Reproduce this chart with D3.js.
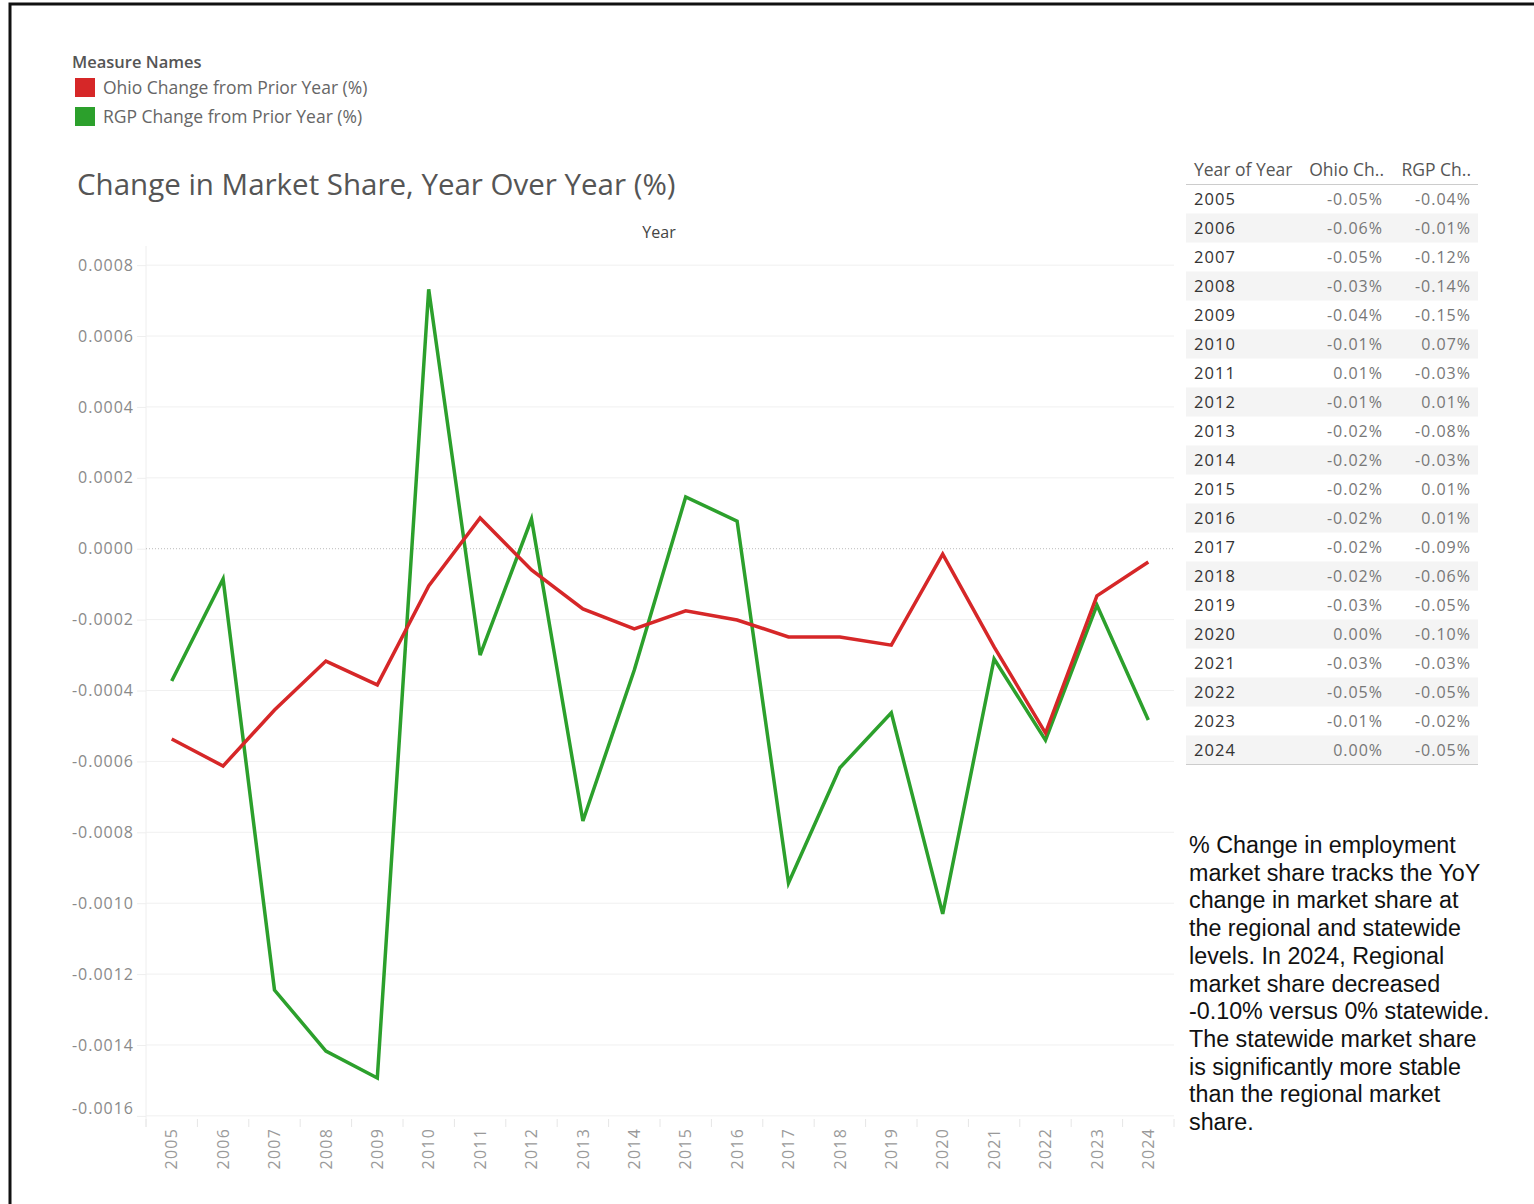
<!DOCTYPE html>
<html>
<head>
<meta charset="utf-8">
<script src="https://cdn.jsdelivr.net/npm/d3@7"></script>
<style>
  body { margin: 0; background: #fff; }
  svg { display: block; }
</style>
</head>
<body>
<div id="chart"></div>
<script>
// data
var years = ["2005","2006","2007","2008","2009","2010","2011","2012","2013","2014",
             "2015","2016","2017","2018","2019","2020","2021","2022","2023","2024"];
var ohioChange = [-0.000537, -0.000613, -0.000455, -0.000317, -0.000384, -0.000105, 0.0000866, -0.00006,
                  -0.00017, -0.000226, -0.000175, -0.000201, -0.000249, -0.000249, -0.000272, -0.000015,
                  -0.000277, -0.00052, -0.000133, -0.0000375];
var rgpChange = [-0.000373, -0.0000854, -0.001245, -0.001417, -0.001493, 0.000732, -0.0003, 0.0000838,
                 -0.000768, -0.000342, 0.000146, 0.000078, -0.000943, -0.000618, -0.000463, -0.00103,
                 -0.000311, -0.00054, -0.000159, -0.000483];
var yTicks = [0.0008, 0.0006, 0.0004, 0.0002, 0, -0.0002, -0.0004, -0.0006, -0.0008,
              -0.0010, -0.0012, -0.0014, -0.0016];
// table labels as shown (rounded by the source tool)
var ohioTable = ["-0.05%","-0.06%","-0.05%","-0.03%","-0.04%","-0.01%","0.01%","-0.01%","-0.02%","-0.02%",
                 "-0.02%","-0.02%","-0.02%","-0.02%","-0.03%","0.00%","-0.03%","-0.05%","-0.01%","0.00%"];
var rgpTable = ["-0.04%","-0.01%","-0.12%","-0.14%","-0.15%","0.07%","-0.03%","0.01%","-0.08%","-0.03%",
                "0.01%","0.01%","-0.09%","-0.06%","-0.05%","-0.10%","-0.03%","-0.05%","-0.02%","-0.05%"];
var seriesNames = ["Ohio Change from Prior Year (%)", "RGP Change from Prior Year (%)"];
var noteLines = ["% Change in employment", "market share tracks the YoY", "change in market share at",
                 "the regional and statewide", "levels. In 2024, Regional", "market share decreased",
                 "-0.10% versus 0% statewide.", "The statewide market share", "is significantly more stable",
                 "than the regional market", "share."];

var W = 1534, H = 1204;
var font = "'Open Sans', Lato, sans-serif";
var colour = d3.scaleOrdinal().domain(seriesNames).range(["#d62728", "#2ca02c"]);

var svg = d3.select("#chart").append("svg")
    .attr("width", W).attr("height", H)
    .style("font-family", font);

// black frame of the screenshot (top and left edges)
svg.append("rect")
    .attr("x", 10).attr("y", 4)
    .attr("width", W + 20).attr("height", H + 20)
    .attr("fill", "none").attr("stroke", "#111").attr("stroke-width", 3);

// ---------- legend ----------
svg.append("text")
    .attr("x", 72).attr("y", 68)
    .attr("font-size", 16.5).attr("font-weight", 600).attr("fill", "#555")
    .text("Measure Names");
var leg = svg.selectAll(".leg").data(seriesNames).enter().append("g")
    .attr("class", "leg")
    .attr("transform", function(d, i) { return "translate(75," + (78 + i * 29) + ")"; });
leg.append("rect").attr("width", 20).attr("height", 19).attr("fill", function(d) { return colour(d); });
leg.append("text").attr("x", 28).attr("y", 16)
    .attr("font-size", 17.5).attr("fill", "#666")
    .text(function(d) { return d; });

// ---------- title ----------
svg.append("text")
    .attr("x", 77).attr("y", 195)
    .attr("font-size", 29.5).attr("fill", "#555")
    .text("Change in Market Share, Year Over Year (%)");
svg.append("text")
    .attr("x", 659).attr("y", 238).attr("text-anchor", "middle")
    .attr("font-size", 16).attr("fill", "#444")
    .text("Year");

// ---------- line chart ----------
var plot = {left: 146, right: 1174, top: 246, bottom: 1118};
var x = d3.scaleBand().domain(years).range([plot.left, plot.right]);
var y = d3.scaleLinear().domain([-0.001606, 0.000854]).range([plot.bottom, plot.top]);
var cx = function(yr) { return x(yr) + x.bandwidth() / 2; };
var fmt = d3.format(".4f");

// gridlines + y labels
var yAxis = d3.axisLeft(y).tickValues(yTicks).tickSize(9)
    .tickFormat(function(d) { return fmt(d).replace("\u2212", "-"); });
var gy = svg.append("g").attr("transform", "translate(" + plot.left + ",0)").call(yAxis);
gy.select(".domain").attr("stroke", "#eee").attr("d", "M0," + plot.top + "V" + (plot.bottom + 9));
gy.selectAll(".tick line").attr("stroke", "#eee");
gy.selectAll(".tick text")
    .attr("font-family", font).attr("font-size", 16).attr("fill", "#8a8a8a")
    .attr("letter-spacing", 1)
    .attr("x", -12)
    .attr("dy", function(d) { return d === -0.0016 ? "-0.15em" : "0.32em"; });

svg.append("g").selectAll("line")
    .data(yTicks.filter(function(d) { return d !== 0; }))
    .enter().append("line")
    .attr("x1", plot.left).attr("x2", plot.right)
    .attr("y1", function(d) { return y(d); }).attr("y2", function(d) { return y(d); })
    .attr("stroke", "#f0f0f0").attr("stroke-width", 1);
svg.append("line")
    .attr("x1", plot.left).attr("x2", plot.right)
    .attr("y1", y(0)).attr("y2", y(0))
    .attr("stroke", "#bbb").attr("stroke-dasharray", "1,2");

// x header: separators and rotated year labels
var xAxis = d3.axisBottom(x).tickSize(0);
var gx = svg.append("g").attr("transform", "translate(0," + (plot.bottom + 2) + ")").call(xAxis);
gx.select(".domain").remove();
gx.selectAll(".tick text")
    .attr("font-family", font).attr("font-size", 16).attr("fill", "#9a9a9a")
    .attr("letter-spacing", 1.2)
    .attr("transform", "rotate(-90)")
    .attr("text-anchor", "end")
    .attr("x", -8).attr("y", 0).attr("dy", "0.35em");
svg.append("g").selectAll("line")
    .data(years.concat(["end"]))
    .enter().append("line")
    .attr("x1", function(d, i) { return plot.left + i * x.bandwidth(); })
    .attr("x2", function(d, i) { return plot.left + i * x.bandwidth(); })
    .attr("y1", plot.bottom + 1).attr("y2", plot.bottom + 9)
    .attr("stroke", "#e6e6e6");

var line = d3.line()
    .x(function(d) { return cx(d.year); })
    .y(function(d) { return y(d.value); });
var series = [
  {name: seriesNames[1], values: years.map(function(yr, i) { return {year: yr, value: rgpChange[i]}; })},
  {name: seriesNames[0], values: years.map(function(yr, i) { return {year: yr, value: ohioChange[i]}; })}
];
svg.append("g").selectAll("path")
    .data(series)
    .enter().append("path")
    .attr("d", function(d) { return line(d.values); })
    .attr("fill", "none")
    .attr("stroke", function(d) { return colour(d.name); })
    .attr("stroke-width", 3.5)
    .attr("stroke-linejoin", "miter");

// ---------- table ----------
var tbl = {left: 1186, right: 1478, headerY: 170, rowY0: 199, rowH: 29};
var rowY = d3.scaleBand().domain(years)
    .range([tbl.rowY0 - tbl.rowH / 2, tbl.rowY0 - tbl.rowH / 2 + years.length * tbl.rowH]);
var tg = svg.append("g");
tg.selectAll(".band").data(years.filter(function(d, i) { return i % 2 === 1; }))
    .enter().append("rect")
    .attr("x", tbl.left).attr("width", tbl.right - tbl.left)
    .attr("y", function(d) { return rowY(d); }).attr("height", rowY.bandwidth())
    .attr("fill", "#f4f4f4");
tg.append("line")
    .attr("x1", tbl.left).attr("x2", tbl.right)
    .attr("y1", rowY(years[0])).attr("y2", rowY(years[0]))
    .attr("stroke", "#ccc");
tg.append("line")
    .attr("x1", tbl.left).attr("x2", tbl.right)
    .attr("y1", rowY.range()[1]).attr("y2", rowY.range()[1])
    .attr("stroke", "#ccc");
var headers = [{t: "Year of Year", x: 1194, a: "start"}, {t: "Ohio Ch..", x: 1384, a: "end"}, {t: "RGP Ch..", x: 1471, a: "end"}];
tg.selectAll(".hdr").data(headers).enter().append("text")
    .attr("x", function(d) { return d.x; }).attr("y", tbl.headerY).attr("dy", "0.35em")
    .attr("text-anchor", function(d) { return d.a; })
    .attr("font-size", 17.5).attr("font-weight", 500).attr("fill", "#555")
    .text(function(d) { return d.t; });
tg.selectAll(".yr").data(years).enter().append("text")
    .attr("x", 1194).attr("y", function(d) { return rowY(d) + rowY.bandwidth() / 2; }).attr("dy", "0.35em")
    .attr("font-size", 16.5).attr("font-weight", 500).attr("fill", "#333")
    .attr("letter-spacing", 1.1)
    .text(function(d) { return d; });
tg.selectAll(".oh").data(years).enter().append("text")
    .attr("x", 1383).attr("y", function(d) { return rowY(d) + rowY.bandwidth() / 2; }).attr("dy", "0.35em")
    .attr("text-anchor", "end").attr("font-size", 16).attr("fill", "#777")
    .attr("letter-spacing", 1)
    .text(function(d, i) { return ohioTable[i]; });
tg.selectAll(".rg").data(years).enter().append("text")
    .attr("x", 1471).attr("y", function(d) { return rowY(d) + rowY.bandwidth() / 2; }).attr("dy", "0.35em")
    .attr("text-anchor", "end").attr("font-size", 16).attr("fill", "#777")
    .attr("letter-spacing", 1)
    .text(function(d, i) { return rgpTable[i]; });

// ---------- note ----------
svg.append("text")
    .attr("font-family", "'Liberation Sans', Arial, sans-serif")
    .attr("font-size", 23.3).attr("fill", "#111")
    .selectAll("tspan").data(noteLines).enter().append("tspan")
    .attr("x", 1189).attr("y", function(d, i) { return 853 + i * 27.7; })
    .text(function(d) { return d; });
</script>
</body>
</html>
